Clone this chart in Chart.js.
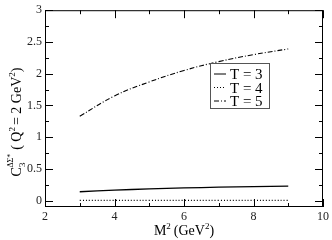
<!DOCTYPE html>
<html>
<head>
<meta charset="utf-8">
<script src="https://cdn.jsdelivr.net/npm/chart.js@4/dist/chart.umd.min.js"></script>
<style>
  html, body { margin: 0; padding: 0; background: #fff; }
  #wrap { width: 332px; height: 240px; }
</style>
</head>
<body>
<div id="wrap"><canvas id="chart" width="332" height="240"></canvas></div>
<script>
// data
const massSq = [3, 4, 5, 6, 7, 8, 9];
const t3Values = [0.14, 0.165, 0.185, 0.2, 0.212, 0.222, 0.23];
const t4Values = [0.005, 0.005, 0.005, 0.005, 0.005, 0.005, 0.005];
const t5Values = [1.33, 1.65, 1.87, 2.05, 2.19, 2.3, 2.39];
const xTicks = [2, 4, 6, 8, 10];
const yTicks = [0, 0.5, 1, 1.5, 2, 2.5, 3];
const seriesNames = ['T = 3', 'T = 4', 'T = 5'];

const serif = '"Liberation Serif", "DejaVu Serif", serif';

const toPoints = vals => vals.map((v, i) => ({ x: massSq[i], y: v }));

/**
 * draws a list of text runs; each run may be shifted up/down and sized
 * @param {object} ctx canvas context
 * @param {Array} runs the runs [{text, size, dy}]
 * @param {number} x start x
 * @param {number} y baseline y
 */
const drawRuns = (ctx, runs, x, y) => {
  let cx = x;
  runs.forEach(r => {
    ctx.font = `${r.size}px ${serif}`;
    ctx.fillText(r.text, cx, y + (r.dy || 0));
    cx += ctx.measureText(r.text).width + (r.gap || 0);
  });
};

const runsWidth = (ctx, runs) => {
  let w = 0;
  runs.forEach(r => {
    ctx.font = `${r.size}px ${serif}`;
    w += ctx.measureText(r.text).width + (r.gap || 0);
  });
  return w;
};

// frame, inward ticks, axis titles and legend box
const framePlugin = {
  id: 'frame',
  afterDraw(chart) {
    const { ctx, chartArea: a, scales } = chart;
    const xs = scales.x;
    const ys = scales.y;
    ctx.save();
    ctx.strokeStyle = '#000';
    ctx.lineWidth = 1;
    ctx.strokeRect(a.left + 0.5, a.top + 0.5, a.right - a.left - 1, a.bottom - a.top - 1);

    ctx.beginPath();
    for (let v = 2; v <= 10; v += 1) {
      const px = Math.round(xs.getPixelForValue(v)) + 0.5;
      const len = v % 2 === 0 ? 8 : 4;
      ctx.moveTo(px, a.bottom);
      ctx.lineTo(px, a.bottom - len);
      ctx.moveTo(px, a.top);
      ctx.lineTo(px, a.top + len);
    }
    for (let k = 0; k <= 12; k++) {
      const v = k * 0.25;
      const py = Math.round(ys.getPixelForValue(v)) + 0.5;
      const len = k % 2 === 0 ? 8 : 4;
      ctx.moveTo(a.left, py);
      ctx.lineTo(a.left + len, py);
      ctx.moveTo(a.right, py);
      ctx.lineTo(a.right - len, py);
    }
    ctx.stroke();

    ctx.fillStyle = '#000';
    ctx.textBaseline = 'alphabetic';
    ctx.textAlign = 'left';

    // x title
    const xRuns = [
      { text: 'M', size: 14 },
      { text: '2', size: 9, dy: -6, gap: 3 },
      { text: '(GeV', size: 14 },
      { text: '2', size: 9, dy: -6 },
      { text: ')', size: 14 }
    ];
    const xw = runsWidth(ctx, xRuns);
    drawRuns(ctx, xRuns, (a.left + a.right) / 2 - xw / 2, 235);

    // y title, rotated
    const yRuns = [
      { text: 'C', size: 14 },
      { text: '3', size: 9, dy: 4, gap: -5 },
      { text: '\u0394\u03A3*', size: 8, dy: -8, gap: 4 },
      { text: '( Q', size: 14 },
      { text: '2', size: 9, dy: -6, gap: 2 },
      { text: '= 2 GeV', size: 14 },
      { text: '2', size: 9, dy: -6 },
      { text: ')', size: 14 }
    ];
    const yw = runsWidth(ctx, yRuns);
    ctx.save();
    ctx.translate(21, 122);
    ctx.rotate(-Math.PI / 2);
    drawRuns(ctx, yRuns, -yw / 2, 0);
    ctx.restore();

    // legend
    const lx = 210, ly = 63, lw = 59, lh = 45;
    ctx.fillStyle = '#fff';
    ctx.fillRect(lx, ly, lw, lh);
    ctx.strokeStyle = '#555';
    ctx.lineWidth = 1;
    ctx.strokeRect(lx + 0.5, ly + 0.5, lw, lh);
    chart.data.datasets.forEach((ds, i) => {
      const ry = ly + 11 + i * 13.5;
      ctx.strokeStyle = '#000';
      ctx.lineWidth = 1;
      ctx.setLineDash(ds.borderDash || []);
      ctx.beginPath();
      ctx.moveTo(lx + 4, ry);
      ctx.lineTo(lx + 16, ry);
      ctx.stroke();
      ctx.setLineDash([]);
      ctx.fillStyle = '#000';
      ctx.font = `15px ${serif}`;
      ctx.fillText(ds.label, lx + 20, ry + 5);
    });
    ctx.restore();
  }
};

const styles = [
  { borderWidth: 1.3, borderDash: [] },
  { borderWidth: 1.1, borderDash: [1, 2] },
  { borderWidth: 1.1, borderDash: [5, 2, 1, 2] }
];

new Chart(document.getElementById('chart'), {
  type: 'line',
  data: {
    datasets: [t3Values, t4Values, t5Values].map((vals, i) => ({
      label: seriesNames[i],
      data: toPoints(vals),
      borderColor: '#000',
      backgroundColor: '#000',
      borderWidth: styles[i].borderWidth,
      borderDash: styles[i].borderDash,
      pointRadius: 0,
      tension: 0.4,
      fill: false
    }))
  },
  options: {
    responsive: false,
    animation: false,
    layout: { padding: { top: 5, right: 6, left: 0, bottom: 0 } },
    plugins: { legend: { display: false }, tooltip: { enabled: false } },
    scales: {
      x: {
        type: 'linear',
        min: 2,
        max: 10,
        grid: { display: false, drawTicks: false },
        border: { display: false },
        afterBuildTicks: scale => { scale.ticks = xTicks.map(v => ({ value: v })); },
        afterFit: scale => { scale.height = 33; },
        ticks: {
          color: '#222',
          padding: 3,
          maxRotation: 0,
          font: { family: serif, size: 12 },
          callback: v => v
        }
      },
      y: {
        min: -0.1,
        max: 3,
        grid: { display: false, drawTicks: false },
        border: { display: false },
        afterBuildTicks: scale => { scale.ticks = yTicks.map(v => ({ value: v })); },
        afterFit: scale => { scale.width = 45; },
        ticks: {
          color: '#222',
          padding: 3,
          font: { family: serif, size: 12 },
          callback: v => v
        }
      }
    }
  },
  plugins: [framePlugin]
});
</script>
</body>
</html>
